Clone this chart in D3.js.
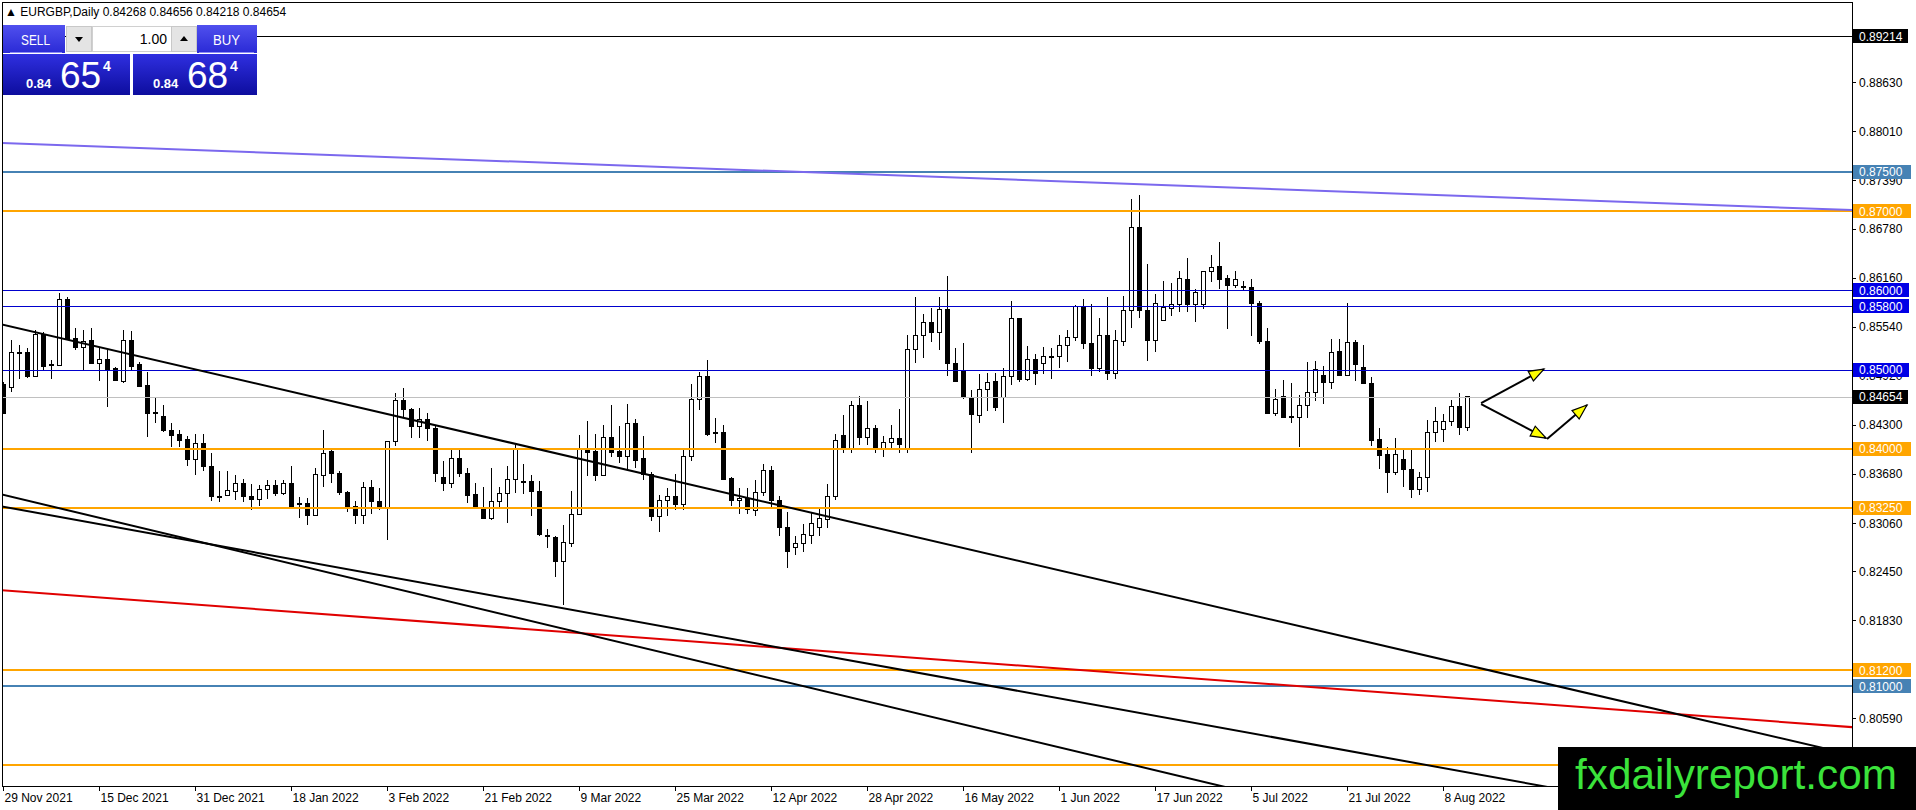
<!DOCTYPE html>
<html lang="en">
<head>
  <meta charset="UTF-8">
  <title>EURGBP, Daily</title>
  <style>
    body { margin: 0; background: #fff; overflow: hidden; }
    svg { display: block; font-family: "Liberation Sans", Arial, sans-serif; }
    .axis-text { font-size: 12px; fill: #000; }
    .wick { stroke: #000; stroke-width: 1; shape-rendering: crispEdges; }
    .body { stroke: #000; stroke-width: 1; shape-rendering: crispEdges; }
  </style>
</head>
<body>
  <svg id="chart" width="1916" height="810"></svg>

  <script src="https://d3js.org/d3.v7.min.js"></script>
  <script>
    // Daily candles, 29 Nov 2021 .. 11 Aug 2022 (bar index 0..183)
    const opens = [
      0.8481,0.8477,0.8522,0.8522,0.8491,0.8544,0.8506,0.8505,0.8588,0.8539,
      0.8528,0.8537,0.8508,0.8513,0.8501,0.8485,0.8537,0.8506,0.8480,0.8446,
      0.8440,0.8423,0.8418,0.8411,0.8386,0.8407,0.8378,0.8340,0.8341,0.8346,
      0.8356,0.8340,0.8336,0.8348,0.8353,0.8343,0.8356,0.8331,0.8331,0.8315,
      0.8366,0.8396,0.8369,0.8345,0.8327,0.8316,0.8351,0.8333,0.8324,0.8409,
      0.8461,0.8450,0.8428,0.8437,0.8425,0.8364,0.8356,0.8388,0.8369,0.8342,
      0.8324,0.8312,0.8333,0.8343,0.8361,0.8359,0.8358,0.8346,0.8290,0.8288,
      0.8257,0.8280,0.8317,0.8399,0.8396,0.8366,0.8414,0.8396,0.8390,0.8432,
      0.8387,0.8367,0.8314,0.8334,0.8339,0.8330,0.8390,0.8462,0.8491,0.8421,
      0.8421,0.8362,0.8335,0.8337,0.8322,0.8345,0.8372,0.8335,0.8300,0.8275,
      0.8280,0.8290,0.8300,0.8310,0.8340,0.8416,0.8400,0.8455,0.8414,0.8425,
      0.8400,0.8408,0.8413,0.8400,0.8525,0.8543,0.8560,0.8547,0.8576,0.8507,
      0.8497,0.8464,0.8442,0.8475,0.8485,0.8464,0.8491,0.8564,0.8488,0.8513,
      0.8507,0.8516,0.8516,0.8530,0.8541,0.8578,0.8533,0.8501,0.8543,0.8495,
      0.8536,0.8575,0.8679,0.8575,0.8537,0.8562,0.8577,0.8582,0.8614,0.8582,
      0.8582,0.8624,0.8630,0.8615,0.8606,0.8605,0.8604,0.8584,0.8535,0.8445,
      0.8466,0.8439,0.8439,0.8455,0.8471,0.8493,0.8483,0.8523,0.8493,0.8534,
      0.8503,0.8482,0.8411,0.8392,0.8370,0.8386,0.8374,0.8348,0.8364,0.8421,
      0.8424,0.8434,0.8453,0.84268
    ];
    const highs = [
      0.8484,0.8537,0.8531,0.8527,0.8550,0.8548,0.8512,0.8597,0.8591,0.8552,
      0.8550,0.8552,0.8529,0.8525,0.8503,0.8550,0.8549,0.8510,0.8497,0.8465,
      0.8455,0.8433,0.8424,0.8416,0.8418,0.8418,0.8394,0.8372,0.8372,0.8367,
      0.8362,0.8355,0.8354,0.8360,0.8361,0.8361,0.8378,0.8339,0.8337,0.8376,
      0.8423,0.8399,0.8372,0.8347,0.8334,0.8358,0.8360,0.8350,0.8409,0.8470,
      0.8477,0.8451,0.8451,0.8445,0.8428,0.8385,0.8399,0.8399,0.8376,0.8356,
      0.8352,0.8375,0.8352,0.8378,0.8405,0.8381,0.8367,0.8359,0.8299,0.8290,
      0.8304,0.8346,0.8417,0.8435,0.8418,0.8430,0.8455,0.8429,0.8457,0.8437,
      0.8416,0.8371,0.8341,0.8350,0.8368,0.8398,0.8482,0.8497,0.8512,0.8439,
      0.8430,0.8364,0.8350,0.8350,0.8360,0.8380,0.8378,0.8340,0.8320,0.8290,
      0.8305,0.8320,0.8325,0.8355,0.8418,0.8442,0.8460,0.8467,0.8460,0.8430,
      0.8416,0.8430,0.8450,0.8544,0.8591,0.8570,0.8578,0.8592,0.8618,0.8527,
      0.8533,0.8474,0.8494,0.8495,0.8495,0.8502,0.8587,0.8565,0.8530,0.8519,
      0.8528,0.8527,0.8544,0.8550,0.8582,0.8589,0.8583,0.8565,0.8591,0.8550,
      0.8593,0.8715,0.8720,0.8633,0.8595,0.8612,0.8609,0.8624,0.8641,0.8602,
      0.8624,0.8645,0.8661,0.8619,0.8625,0.8612,0.8615,0.8586,0.8553,0.8475,
      0.8487,0.8483,0.8468,0.8510,0.8511,0.8504,0.8539,0.8539,0.8584,0.8537,
      0.8531,0.8490,0.8426,0.8402,0.8414,0.8399,0.8399,0.8371,0.8436,0.8453,
      0.8444,0.8461,0.8470,0.84656
    ];
    const lows = [
      0.8445,0.8472,0.8488,0.8489,0.8490,0.8500,0.8488,0.8504,0.8537,0.8525,
      0.8500,0.8507,0.8486,0.8453,0.8485,0.8483,0.8498,0.8478,0.8415,0.8433,
      0.8421,0.8402,0.8402,0.8378,0.8367,0.8372,0.8334,0.8333,0.8340,0.8335,
      0.8333,0.8323,0.8327,0.8336,0.8340,0.8341,0.8327,0.8312,0.8303,0.8315,
      0.8351,0.8357,0.8341,0.8320,0.8305,0.8305,0.8317,0.8323,0.8284,0.8403,
      0.8440,0.8413,0.8413,0.8410,0.8358,0.8346,0.8350,0.8364,0.8331,0.8324,
      0.8312,0.8310,0.8324,0.8306,0.8344,0.8343,0.8315,0.8290,0.8274,0.8238,
      0.8203,0.8276,0.8316,0.8365,0.8359,0.8366,0.8389,0.8382,0.8374,0.8376,
      0.8361,0.8308,0.8295,0.8315,0.8323,0.8322,0.8385,0.8449,0.8416,0.8407,
      0.8360,0.8327,0.8318,0.8318,0.8315,0.8340,0.8325,0.8290,0.8249,0.8265,
      0.8270,0.8280,0.8290,0.8300,0.8335,0.8395,0.8395,0.8405,0.8405,0.8395,
      0.8390,0.8400,0.8395,0.8395,0.8508,0.8515,0.8535,0.8525,0.8492,0.8484,
      0.8463,0.8395,0.8433,0.8447,0.8447,0.8433,0.8480,0.8484,0.8486,0.8481,
      0.8494,0.8488,0.8502,0.8510,0.8536,0.8526,0.8492,0.8497,0.8487,0.8488,
      0.8530,0.8552,0.8565,0.8511,0.8522,0.8562,0.8567,0.8573,0.8573,0.8560,
      0.8577,0.8610,0.8602,0.8551,0.8603,0.8600,0.8542,0.8532,0.8444,0.8441,
      0.8439,0.8432,0.8402,0.8439,0.8460,0.8456,0.8476,0.8492,0.8492,0.8486,
      0.8482,0.8403,0.8374,0.8344,0.8367,0.8352,0.8338,0.8341,0.8345,0.8409,
      0.8409,0.8428,0.8417,0.84218
    ];
    const closes = [
      0.8445,0.8521,0.8520,0.8491,0.8544,0.8504,0.8505,0.8588,0.8538,0.8528,
      0.8536,0.8508,0.8513,0.8500,0.8486,0.8537,0.8504,0.8479,0.8445,0.8444,
      0.8423,0.8417,0.8410,0.8386,0.8407,0.8377,0.8339,0.8339,0.8347,0.8356,
      0.8339,0.8336,0.8348,0.8353,0.8343,0.8356,0.8327,0.8329,0.8315,0.8367,
      0.8394,0.8368,0.8345,0.8327,0.8316,0.8351,0.8333,0.8324,0.8409,0.8461,
      0.8450,0.8428,0.8437,0.8425,0.8368,0.8356,0.8388,0.8368,0.8341,0.8327,
      0.8312,0.8333,0.8343,0.8361,0.8399,0.8358,0.8346,0.8291,0.8289,0.8257,
      0.8281,0.8317,0.8400,0.8395,0.8366,0.8414,0.8395,0.8390,0.8432,0.8385,
      0.8367,0.8314,0.8334,0.8339,0.8330,0.8390,0.8462,0.8491,0.8418,0.8420,
      0.8361,0.8335,0.8337,0.8323,0.8345,0.8372,0.8335,0.8300,0.8270,0.8280,
      0.8292,0.8305,0.8312,0.8340,0.8410,0.8400,0.8455,0.8414,0.8425,0.8400,
      0.8408,0.8413,0.8405,0.8525,0.8543,0.8560,0.8547,0.8576,0.8507,0.8485,
      0.8464,0.8443,0.8475,0.8484,0.8452,0.8491,0.8564,0.8488,0.8513,0.8495,
      0.8516,0.8517,0.8530,0.8541,0.8579,0.8533,0.8501,0.8543,0.8495,0.8537,
      0.8575,0.8679,0.8575,0.8537,0.8584,0.8578,0.8582,0.8615,0.8582,0.8597,
      0.8624,0.8629,0.8614,0.8606,0.8614,0.8604,0.8584,0.8535,0.8445,0.8462,
      0.8439,0.8440,0.8455,0.8471,0.8500,0.8483,0.8521,0.8493,0.8534,0.8506,
      0.8482,0.8410,0.8391,0.8370,0.8392,0.8374,0.8348,0.8364,0.8421,0.8434,
      0.8434,0.8453,0.8427,0.84654
    ];

    const dateTickBars = [0, 12, 24, 36, 48, 60, 72, 84, 96, 108, 120, 132, 144, 156, 168, 180];
    const dateTickLabels = ["29 Nov 2021", "15 Dec 2021", "31 Dec 2021", "18 Jan 2022", "3 Feb 2022",
      "21 Feb 2022", "9 Mar 2022", "25 Mar 2022", "12 Apr 2022", "28 Apr 2022", "16 May 2022",
      "1 Jun 2022", "17 Jun 2022", "5 Jul 2022", "21 Jul 2022", "8 Aug 2022"];
    // visible scale labels (the ones under the 0.812 tag and the logo are not shown)
    const priceTicks = [0.88630, 0.88010, 0.87390, 0.86780, 0.86160, 0.85540, 0.84920, 0.84300,
      0.83680, 0.83060, 0.82450, 0.81830, 0.80590];

    // horizontal levels
    const orangeLevels = [0.87000, 0.84000, 0.83250, 0.81200, 0.80000];
    const blueLevels = [0.86000, 0.85800, 0.85000];
    const steelLevels = [0.87500, 0.81000];
    const markLevel = 0.89214;
    const lastPrice = 0.84654;
    const header = { symbol: "EURGBP,Daily", o: 0.84268, h: 0.84656, l: 0.84218, c: 0.84654 };

    // trend lines as [bar, price] end points
    const blackTrends = [
      [[-1, 0.85588], [232, 0.80111]],
      [[-1, 0.83440], [232, 0.77808]],
      [[-1, 0.83284], [232, 0.79009]]
    ];
    const purpleTrend = [[-1, 0.87865], [232, 0.87011]];
    const redTrend = [[-1, 0.82216], [232, 0.80474]];

    // projection arrows
    const arrowStarts = [[184.7, 0.84576], [184.7, 0.84563], [192.94, 0.84121]];
    const arrowEnds = [[192.56, 0.85006], [192.81, 0.84134], [197.94, 0.84551]];

    const W = 1916, H = 810;
    const plot = { left: 2, top: 2, right: 1852, bottom: 786 };
    const logo = { x: 1558, y: 747 };

    const x = d3.scaleLinear().domain([0, 183]).range([3.5, 1467.5]);
    const y = d3.scaleLinear().domain([0.79737, 0.89644]).range([plot.bottom, plot.top]);

    const svg = d3.select("#chart");
    const defs = svg.append("defs");
    defs.append("clipPath").attr("id", "plotClip")
      .append("rect")
      .attr("x", plot.left).attr("y", plot.top)
      .attr("width", plot.right - plot.left).attr("height", plot.bottom - plot.top);

    const gTop = defs.append("linearGradient").attr("id", "btnGrad").attr("x1", 0).attr("y1", 0).attr("x2", 0).attr("y2", 1);
    gTop.append("stop").attr("offset", "0%").attr("stop-color", "#5050ee");
    gTop.append("stop").attr("offset", "100%").attr("stop-color", "#2a2ad6");
    const gBox = defs.append("linearGradient").attr("id", "boxGrad").attr("x1", 0).attr("y1", 0).attr("x2", 0).attr("y2", 1);
    gBox.append("stop").attr("offset", "0%").attr("stop-color", "#2f2fe0");
    gBox.append("stop").attr("offset", "100%").attr("stop-color", "#0d0d9e");

    const chart = svg.append("g").attr("clip-path", "url(#plotClip)");

    // candles
    const bars = d3.range(opens.length);
    chart.append("g").selectAll("line")
      .data(bars).join("line")
      .attr("class", "wick")
      .attr("x1", i => Math.floor(x(i)) + 0.5).attr("x2", i => Math.floor(x(i)) + 0.5)
      .attr("y1", i => y(highs[i])).attr("y2", i => y(lows[i]));

    chart.append("g").selectAll("rect")
      .data(bars).join("rect")
      .attr("class", "body")
      .attr("x", i => Math.floor(x(i)) - 1.5)
      .attr("width", 4)
      .attr("y", i => y(Math.max(opens[i], closes[i])))
      .attr("height", i => Math.max(1, Math.abs(y(opens[i]) - y(closes[i]))))
      .attr("fill", i => closes[i] >= opens[i] ? "#fff" : "#000");

    // horizontal lines
    const hline = (g, v, color, width) => g.append("line")
      .attr("x1", plot.left).attr("x2", plot.right)
      .attr("y1", Math.round(y(v)) + (width % 2 ? 0.5 : 0))
      .attr("y2", Math.round(y(v)) + (width % 2 ? 0.5 : 0))
      .attr("stroke", color).attr("stroke-width", width)
      .attr("shape-rendering", "crispEdges");

    const levelsG = chart.append("g");
    hline(levelsG, markLevel, "#000", 1);
    hline(levelsG, lastPrice, "#c0c0c0", 1);
    orangeLevels.forEach(v => hline(levelsG, v, "#ffa500", 2));
    blueLevels.forEach(v => hline(levelsG, v, "#0000cd", 1));
    steelLevels.forEach(v => hline(levelsG, v, "#4682b4", 2));

    // trend lines
    const line = d3.line().x(d => x(d[0])).y(d => y(d[1]));
    chart.append("path").datum(purpleTrend).attr("d", line)
      .attr("fill", "none").attr("stroke", "#7b68ee").attr("stroke-width", 2);
    chart.append("path").datum(redTrend).attr("d", line)
      .attr("fill", "none").attr("stroke", "#e00000").attr("stroke-width", 2);
    chart.append("g").selectAll("path")
      .data(blackTrends).join("path")
      .attr("d", line)
      .attr("fill", "none").attr("stroke", "#000").attr("stroke-width", 2);

    // arrows
    const arrowsG = chart.append("g");
    arrowStarts.forEach((s, k) => {
      const e = arrowEnds[k];
      const x1 = x(s[0]), y1 = y(s[1]), x2 = x(e[0]), y2 = y(e[1]);
      arrowsG.append("line")
        .attr("x1", x1).attr("y1", y1).attr("x2", x2).attr("y2", y2)
        .attr("stroke", "#000").attr("stroke-width", 2);
      const ang = Math.atan2(y2 - y1, x2 - x1);
      const len = 15, half = 5.5;
      const bx = x2 - len * Math.cos(ang), by = y2 - len * Math.sin(ang);
      const px = -Math.sin(ang) * half, py = Math.cos(ang) * half;
      arrowsG.append("path")
        .attr("d", `M${x2},${y2}L${bx + px},${by + py}L${bx - px},${by - py}Z`)
        .attr("fill", "#ffff00").attr("stroke", "#000").attr("stroke-width", 1.2)
        .attr("stroke-linejoin", "miter");
    });

    // frame
    svg.append("rect")
      .attr("x", plot.left + 0.5).attr("y", plot.top + 0.5)
      .attr("width", plot.right - plot.left).attr("height", plot.bottom - plot.top)
      .attr("fill", "none").attr("stroke", "#000").attr("shape-rendering", "crispEdges");

    // price axis
    const yAxisG = svg.append("g");
    yAxisG.selectAll("line").data(priceTicks).join("line")
      .attr("x1", plot.right).attr("x2", plot.right + 4)
      .attr("y1", d => Math.round(y(d)) + 0.5).attr("y2", d => Math.round(y(d)) + 0.5)
      .attr("stroke", "#000").attr("shape-rendering", "crispEdges");
    yAxisG.selectAll("text").data(priceTicks).join("text")
      .attr("class", "axis-text")
      .attr("x", plot.right + 7).attr("y", d => y(d) + 4.5)
      .text(d => d.toFixed(5));

    // time axis
    const xAxisG = svg.append("g");
    xAxisG.selectAll("line").data(dateTickBars).join("line")
      .attr("x1", d => Math.floor(x(d)) + 0.5).attr("x2", d => Math.floor(x(d)) + 0.5)
      .attr("y1", plot.bottom).attr("y2", plot.bottom + 5)
      .attr("stroke", "#000").attr("shape-rendering", "crispEdges");
    xAxisG.selectAll("text").data(dateTickBars).join("text")
      .attr("class", "axis-text")
      .attr("x", d => x(d) + 1).attr("y", 802)
      .text((d, i) => dateTickLabels[i]);

    // price tags on the axis (tags that would sit under the logo are not drawn)
    const tag = (v, bg, w) => {
      if (y(v) + 7 > logo.y) return;
      const g = svg.append("g");
      g.append("rect")
        .attr("x", plot.right + 1).attr("y", Math.round(y(v)) - 7)
        .attr("width", w).attr("height", 14).attr("fill", bg);
      g.append("text").attr("class", "axis-text")
        .attr("x", plot.right + 7).attr("y", y(v) + 4.5)
        .attr("fill", "#fff").style("fill", "#fff")
        .text(v.toFixed(5));
    };
    tag(markLevel, "#000", 55);
    steelLevels.forEach(v => tag(v, "#4682b4", 58));
    orangeLevels.forEach(v => tag(v, "#ffa500", 58));
    blueLevels.forEach(v => tag(v, "#0000e6", 56));
    tag(lastPrice, "#000", 55);

    // watermark
    svg.append("rect").attr("x", logo.x).attr("y", logo.y)
      .attr("width", W - logo.x).attr("height", H - logo.y).attr("fill", "#000");
    svg.append("text")
      .attr("x", 1575).attr("y", 789)
      .attr("textLength", 322).attr("lengthAdjust", "spacingAndGlyphs")
      .style("font-size", "42px").style("fill", "#3be33b")
      .text("fxdailyreport.com");

    // header
    svg.append("text")
      .attr("x", 5).attr("y", 16)
      .style("font-size", "12px")
      .text("\u25B2 " + header.symbol + "  " + [header.o, header.h, header.l, header.c].map(d => d.toFixed(5)).join(" "));

    // one-click trading panel
    const panel = svg.append("g");
    panel.append("rect").attr("x", 3).attr("y", 25).attr("width", 62).attr("height", 28).attr("fill", "url(#btnGrad)");
    panel.append("rect").attr("x", 197).attr("y", 25).attr("width", 60).attr("height", 28).attr("fill", "url(#btnGrad)");
    panel.append("line").attr("x1", 10).attr("x2", 62).attr("y1", 52.5).attr("y2", 52.5).attr("stroke", "#8c8cf5");
    panel.append("line").attr("x1", 199).attr("x2", 254).attr("y1", 52.5).attr("y2", 52.5).attr("stroke", "#8c8cf5");
    panel.append("text").attr("x", 21).attr("y", 45).attr("textLength", 29).attr("lengthAdjust", "spacingAndGlyphs")
      .style("font-size", "15px").style("fill", "#fff").text("SELL");
    panel.append("text").attr("x", 213).attr("y", 45).attr("textLength", 27).attr("lengthAdjust", "spacingAndGlyphs")
      .style("font-size", "15px").style("fill", "#fff").text("BUY");
    panel.append("rect").attr("x", 66.5).attr("y", 26.5).attr("width", 25).attr("height", 25)
      .attr("fill", "#e4e4e4").attr("stroke", "#c8c8c8");
    panel.append("rect").attr("x", 92.5).attr("y", 26.5).attr("width", 79).attr("height", 25)
      .attr("fill", "#fff").attr("stroke", "#d0d0d0");
    panel.append("rect").attr("x", 171.5).attr("y", 26.5).attr("width", 25).attr("height", 25)
      .attr("fill", "#e4e4e4").attr("stroke", "#c8c8c8");
    panel.append("path").attr("d", "M75,37L83,37L79,42Z").attr("fill", "#000");
    panel.append("path").attr("d", "M180,41L188,41L184,36Z").attr("fill", "#000");
    panel.append("text").attr("x", 167).attr("y", 44).attr("text-anchor", "end")
      .style("font-size", "14px").text("1.00");

    panel.append("rect").attr("x", 3).attr("y", 54).attr("width", 127).attr("height", 41).attr("fill", "url(#boxGrad)");
    panel.append("rect").attr("x", 133).attr("y", 54).attr("width", 124).attr("height", 41).attr("fill", "url(#boxGrad)");
    const quote = (x0, big) => {
      panel.append("text").attr("x", x0).attr("y", 88)
        .style("font-size", "13px").style("font-weight", "bold").style("fill", "#fff").text("0.84");
      panel.append("text").attr("x", x0 + 34).attr("y", 88)
        .style("font-size", "37px").style("fill", "#fff").text(big);
      panel.append("text").attr("x", x0 + 77).attr("y", 71)
        .style("font-size", "14px").style("font-weight", "bold").style("fill", "#fff").text("4");
    };
    quote(26, "65");
    quote(153, "68");
  </script>
</body>
</html>
